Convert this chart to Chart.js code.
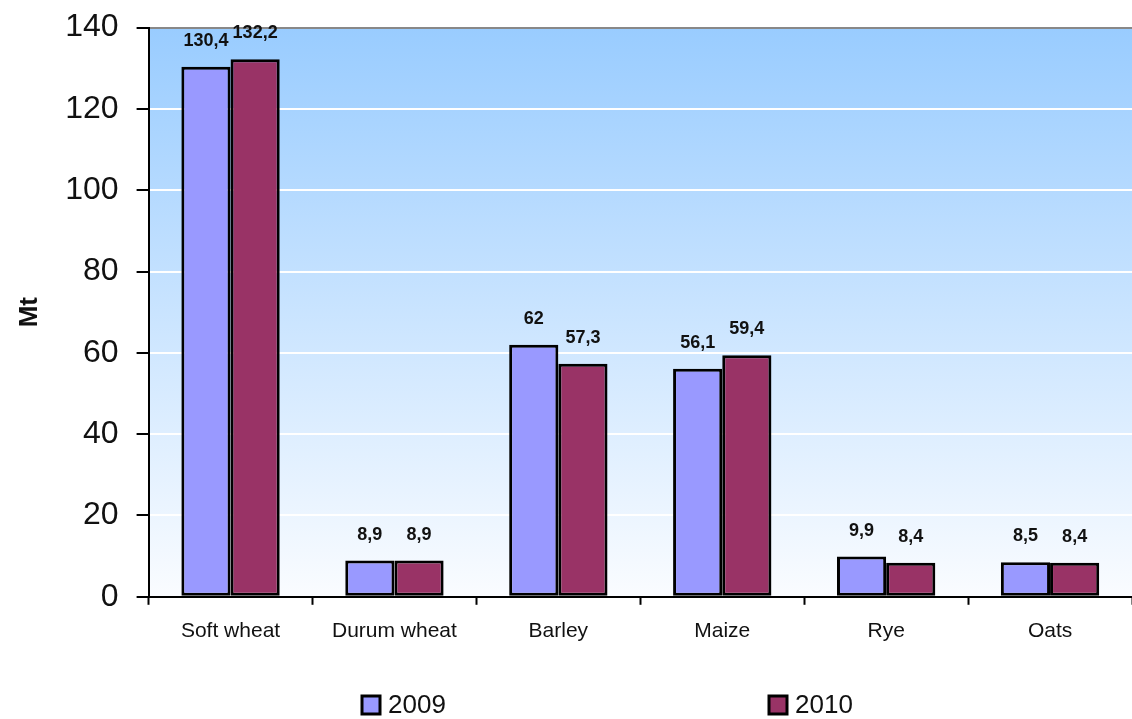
<!DOCTYPE html>
<html>
<head>
<meta charset="utf-8">
<script src="https://cdn.jsdelivr.net/npm/chart.js@4/dist/chart.umd.min.js"></script>
<style>
  body { margin: 0; background: #fff; }
  #wrap { width: 1132px; height: 719px; }
</style>
</head>
<body>
<div id="wrap"><canvas id="myChart"></canvas></div>
<script>
const categories = ['Soft wheat', 'Durum wheat', 'Barley', 'Maize', 'Rye', 'Oats'];
const values2009 = [130.4, 8.9, 62, 56.1, 9.9, 8.5];
const values2010 = [132.2, 8.9, 57.3, 59.4, 8.4, 8.4];
const seriesLabels = ['2009', '2010'];
const seriesColors = ['#9999ff', '#993366'];
const yTicks = [0, 20, 40, 60, 80, 100, 120, 140];

let ctx = document.getElementById('myChart').getContext('2d');

// gradient plot background
const plotBackground = {
  id: 'plotBackground',
  beforeDraw(chart) {
    let a = chart.chartArea;
    let c = chart.ctx;
    let g = c.createLinearGradient(0, a.top, 0, a.bottom);
    g.addColorStop(0, '#99ccff');
    g.addColorStop(1, '#fafcff');
    c.save();
    c.fillStyle = g;
    c.fillRect(a.left, a.top, a.right - a.left, a.bottom - a.top);
    c.restore();
  }
};

// numbers above the bars, with comma decimals
const barLabels = {
  id: 'barLabels',
  afterDatasetsDraw(chart) {
    let c = chart.ctx;
    c.save();
    c.font = 'bold 18px "Liberation Sans", Arial, sans-serif';
    c.fillStyle = '#111';
    c.textAlign = 'center';
    c.textBaseline = 'middle';
    chart.data.datasets.forEach((ds, i) => {
      chart.getDatasetMeta(i).data.forEach((bar, j) => {
        let txt = String(ds.data[j]).replace('.', ',');
        c.fillText(txt, bar.x, bar.y - 26);
      });
    });
    c.restore();
  }
};

// legend drawn at the bottom, spread out like the original
const bottomLegend = {
  id: 'bottomLegend',
  afterDraw(chart) {
    let c = chart.ctx;
    let xs = [362, 769];
    let y = 705;
    c.save();
    c.font = '26px "Liberation Sans", Arial, sans-serif';
    c.textBaseline = 'middle';
    chart.data.datasets.forEach((ds, i) => {
      c.fillStyle = ds.backgroundColor;
      c.fillRect(xs[i], y - 9, 18, 18);
      c.lineWidth = 3;
      c.strokeStyle = '#000';
      c.strokeRect(xs[i], y - 9, 18, 18);
      c.fillStyle = '#111';
      c.fillText(ds.label, xs[i] + 26, y + 1);
    });
    c.restore();
  }
};

let myChart = new Chart(ctx, {
  type: 'bar',
  data: {
    labels: categories,
    datasets: [
      {
        label: seriesLabels[0],
        data: values2009,
        backgroundColor: seriesColors[0],
        borderColor: '#000',
        borderWidth: 3,
        borderSkipped: false
      },
      {
        label: seriesLabels[1],
        data: values2010,
        backgroundColor: seriesColors[1],
        borderColor: '#000',
        borderWidth: 3,
        borderSkipped: false
      }
    ]
  },
  options: {
    responsive: true,
    maintainAspectRatio: false,
    animation: false,
    layout: {
      padding: { top: 0, left: 14, right: 0, bottom: 61 }
    },
    datasets: {
      bar: { categoryPercentage: 0.6, barPercentage: 1 }
    },
    plugins: {
      legend: { display: false },
      tooltip: { enabled: false }
    },
    scales: {
      x: {
        grid: {
          display: true,
          drawOnChartArea: false,
          tickLength: 8,
          tickColor: '#000',
          tickWidth: 2
        },
        border: { color: '#000', width: 2 },
        ticks: {
          padding: 14,
          color: '#111',
          font: { family: '"Liberation Sans", Arial, sans-serif', size: 21 }
        }
      },
      y: {
        min: 0,
        max: 140,
        afterBuildTicks(axis) {
          axis.ticks = yTicks.map(v => ({ value: v }));
        },
        grid: {
          color: (c) => c.tick && c.tick.value === 140 ? '#888' : '#ffffff',
          lineWidth: 2,
          tickLength: 12,
          tickColor: '#000',
          tickWidth: 2
        },
        border: { color: '#000', width: 2 },
        ticks: {
          padding: 18,
          color: '#111',
          font: { family: '"Liberation Sans", Arial, sans-serif', size: 32, lineHeight: 0.6 }
        },
        title: {
          display: true,
          text: 'Mt',
          color: '#111',
          padding: { top: 0, bottom: 2 },
          font: { family: '"Liberation Sans", Arial, sans-serif', size: 26, weight: 'bold' }
        }
      }
    }
  },
  plugins: [plotBackground, barLabels, bottomLegend]
});
</script>
</body>
</html>
